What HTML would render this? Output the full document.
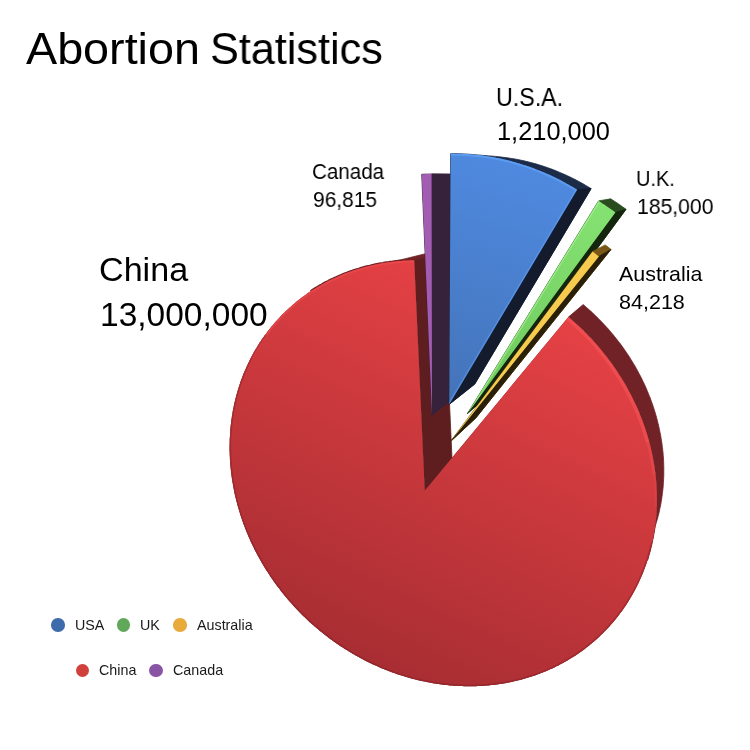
<!DOCTYPE html>
<html><head><meta charset="utf-8">
<style>
html,body{margin:0;padding:0;background:#fff;}
body{width:750px;height:750px;position:relative;overflow:hidden;font-family:"Liberation Sans",Arial,sans-serif;color:#000;}
.t{position:absolute;white-space:nowrap;line-height:1;will-change:transform;}
.leg{font-size:14.3px;color:#1a1a1a;}
.dot{position:absolute;width:13.6px;height:13.6px;border-radius:50%;}
svg{position:absolute;left:0;top:0;}
</style></head><body>
<svg width="750" height="750" viewBox="0 0 750 750">
<defs>
<linearGradient id="gRed" gradientUnits="userSpaceOnUse" x1="641.5" y1="229.5" x2="420" y2="700"><stop offset="0" stop-color="#f7474a"/><stop offset="1" stop-color="#a62d32"/></linearGradient>
<linearGradient id="gBlue" gradientUnits="userSpaceOnUse" x1="520" y1="160" x2="450" y2="400">
<stop offset="0" stop-color="#4f8ae0"/><stop offset="1" stop-color="#4474ba"/></linearGradient>
<linearGradient id="gGreen" gradientUnits="userSpaceOnUse" x1="600" y1="200" x2="470" y2="410">
<stop offset="0" stop-color="#84e272"/><stop offset="1" stop-color="#6ec85c"/></linearGradient>
</defs>
<defs><clipPath id="cp_china"><path d="M424.7,490.7 L568.4,317.1 L570.1,318.5 L571.8,320.0 L573.5,321.5 L575.2,323.0 L576.8,324.5 L578.5,326.0 L580.1,327.5 L581.7,329.1 L583.4,330.6 L584.9,332.2 L586.5,333.8 L588.1,335.4 L589.6,337.0 L591.2,338.6 L592.7,340.3 L594.2,341.9 L595.7,343.6 L597.2,345.3 L598.6,347.0 L600.1,348.7 L601.5,350.4 L602.9,352.2 L604.3,353.9 L605.7,355.7 L607.1,357.4 L608.4,359.2 L609.8,361.0 L611.1,362.8 L612.4,364.6 L613.7,366.4 L614.9,368.2 L616.2,370.1 L617.4,371.9 L618.6,373.8 L619.8,375.7 L621.0,377.5 L622.2,379.4 L623.3,381.3 L624.5,383.2 L625.6,385.1 L626.7,387.1 L627.7,389.0 L628.8,390.9 L629.8,392.9 L630.8,394.8 L631.8,396.8 L632.8,398.7 L633.8,400.7 L634.7,402.7 L635.7,404.7 L636.6,406.6 L637.4,408.6 L638.3,410.6 L639.2,412.6 L640.0,414.7 L640.8,416.7 L641.6,418.7 L642.4,420.7 L643.1,422.7 L643.8,424.8 L644.5,426.8 L645.2,428.8 L645.9,430.9 L646.6,432.9 L647.2,435.0 L647.8,437.0 L648.4,439.1 L649.0,441.1 L649.5,443.2 L650.1,445.2 L650.6,447.3 L651.1,449.4 L651.5,451.4 L652.0,453.5 L652.4,455.5 L652.8,457.6 L653.2,459.7 L653.6,461.7 L654.0,463.8 L654.3,465.8 L654.6,467.9 L654.9,470.0 L655.2,472.0 L655.4,474.1 L655.7,476.1 L655.9,478.2 L656.1,480.2 L656.2,482.3 L656.4,484.3 L656.5,486.4 L656.6,488.4 L656.7,490.5 L656.8,492.5 L656.9,494.5 L656.9,496.6 L656.9,498.6 L656.9,500.6 L656.9,502.6 L656.9,504.6 L656.8,506.6 L656.7,508.7 L656.6,510.6 L656.5,512.6 L656.4,514.6 L656.2,516.6 L656.0,518.6 L655.8,520.6 L655.6,522.5 L655.4,524.5 L655.1,526.4 L654.8,528.4 L654.6,530.3 L654.2,532.3 L653.9,534.2 L653.6,536.1 L653.2,538.0 L652.8,539.9 L652.4,541.8 L652.0,543.7 L651.6,545.6 L651.1,547.4 L650.7,549.3 L650.2,551.2 L649.7,553.0 L649.1,554.8 L648.6,556.7 L648.0,558.5 L647.5,560.3 L646.9,562.1 L646.3,563.9 L645.6,565.7 L645.0,567.4 L644.3,569.2 L643.7,571.0 L643.0,572.7 L642.3,574.4 L641.5,576.2 L640.8,577.9 L640.0,579.6 L639.3,581.3 L638.5,582.9 L637.7,584.6 L636.9,586.3 L636.0,587.9 L635.2,589.5 L634.3,591.2 L633.4,592.8 L632.5,594.4 L631.6,596.0 L630.7,597.5 L629.8,599.1 L628.8,600.7 L627.8,602.2 L626.9,603.7 L625.9,605.2 L624.9,606.7 L623.8,608.2 L622.8,609.7 L621.8,611.2 L620.7,612.6 L619.6,614.1 L618.5,615.5 L617.4,616.9 L616.3,618.3 L615.2,619.7 L614.1,621.1 L612.9,622.4 L611.7,623.8 L610.6,625.1 L609.4,626.4 L608.2,627.7 L607.0,629.0 L605.7,630.3 L604.5,631.6 L603.3,632.8 L602.0,634.1 L600.7,635.3 L599.5,636.5 L598.2,637.7 L596.9,638.9 L595.6,640.0 L594.3,641.2 L592.9,642.3 L591.6,643.5 L590.2,644.6 L588.9,645.7 L587.5,646.8 L586.1,647.8 L584.8,648.9 L583.4,649.9 L582.0,650.9 L580.5,652.0 L579.1,653.0 L577.7,653.9 L576.3,654.9 L574.8,655.9 L573.3,656.8 L571.9,657.7 L570.4,658.6 L568.9,659.5 L567.4,660.4 L566.0,661.3 L564.5,662.1 L562.9,663.0 L561.4,663.8 L559.9,664.6 L558.4,665.4 L556.8,666.1 L555.3,666.9 L553.7,667.7 L552.2,668.4 L550.6,669.1 L549.1,669.8 L547.5,670.5 L545.9,671.2 L544.3,671.8 L542.7,672.5 L541.1,673.1 L539.5,673.7 L537.9,674.3 L536.3,674.9 L534.7,675.5 L533.1,676.0 L531.5,676.6 L529.8,677.1 L528.2,677.6 L526.6,678.1 L524.9,678.6 L523.3,679.0 L521.6,679.5 L520.0,679.9 L518.3,680.3 L516.6,680.7 L515.0,681.1 L513.3,681.5 L511.6,681.9 L510.0,682.2 L508.3,682.6 L506.6,682.9 L504.9,683.2 L503.2,683.5 L501.5,683.7 L499.9,684.0 L498.2,684.3 L496.5,684.5 L494.8,684.7 L493.1,684.9 L491.4,685.1 L489.7,685.3 L488.0,685.4 L486.3,685.6 L484.6,685.7 L482.9,685.8 L481.1,685.9 L479.4,686.0 L477.7,686.1 L476.0,686.2 L474.3,686.2 L472.6,686.2 L470.9,686.3 L469.2,686.3 L467.5,686.3 L465.7,686.2 L464.0,686.2 L462.3,686.1 L460.6,686.1 L458.9,686.0 L457.2,685.9 L455.5,685.8 L453.8,685.7 L452.1,685.6 L450.3,685.4 L448.6,685.3 L446.9,685.1 L445.2,684.9 L443.5,684.7 L441.8,684.5 L440.1,684.3 L438.4,684.0 L436.7,683.8 L435.0,683.5 L433.3,683.2 L431.6,682.9 L429.9,682.6 L428.2,682.3 L426.6,682.0 L424.9,681.6 L423.2,681.3 L421.5,680.9 L419.8,680.5 L418.2,680.2 L416.5,679.7 L414.8,679.3 L413.1,678.9 L411.5,678.5 L409.8,678.0 L408.2,677.5 L406.5,677.0 L404.9,676.6 L403.2,676.0 L401.6,675.5 L399.9,675.0 L398.3,674.5 L396.6,673.9 L395.0,673.3 L393.4,672.8 L391.8,672.2 L390.1,671.6 L388.5,671.0 L386.9,670.3 L385.3,669.7 L383.7,669.0 L382.1,668.4 L380.5,667.7 L378.9,667.0 L377.4,666.3 L375.8,665.6 L374.2,664.9 L372.6,664.2 L371.1,663.4 L369.5,662.7 L368.0,661.9 L366.4,661.2 L364.9,660.4 L363.3,659.6 L361.8,658.8 L360.3,658.0 L358.7,657.1 L357.2,656.3 L355.7,655.4 L354.2,654.6 L352.7,653.7 L351.2,652.8 L349.7,652.0 L348.3,651.1 L346.8,650.1 L345.3,649.2 L343.8,648.3 L342.4,647.3 L340.9,646.4 L339.5,645.4 L338.1,644.5 L336.6,643.5 L335.2,642.5 L333.8,641.5 L332.4,640.5 L331.0,639.5 L329.6,638.4 L328.2,637.4 L326.8,636.3 L325.4,635.3 L324.1,634.2 L322.7,633.1 L321.4,632.0 L320.0,630.9 L318.7,629.8 L317.4,628.7 L316.0,627.6 L314.7,626.5 L313.4,625.3 L312.1,624.2 L310.8,623.0 L309.5,621.9 L308.3,620.7 L307.0,619.5 L305.7,618.3 L304.5,617.1 L303.2,615.9 L302.0,614.7 L300.8,613.4 L299.6,612.2 L298.4,611.0 L297.2,609.7 L296.0,608.5 L294.8,607.2 L293.6,605.9 L292.4,604.6 L291.3,603.3 L290.1,602.0 L289.0,600.7 L287.9,599.4 L286.7,598.1 L285.6,596.8 L284.5,595.4 L283.4,594.1 L282.3,592.7 L281.3,591.4 L280.2,590.0 L279.2,588.6 L278.1,587.3 L277.1,585.9 L276.0,584.5 L275.0,583.1 L274.0,581.7 L273.0,580.3 L272.0,578.8 L271.1,577.4 L270.1,576.0 L269.1,574.5 L268.2,573.1 L267.2,571.6 L266.3,570.2 L265.4,568.7 L264.5,567.2 L263.6,565.8 L262.7,564.3 L261.8,562.8 L261.0,561.3 L260.1,559.8 L259.3,558.3 L258.4,556.8 L257.6,555.3 L256.8,553.8 L256.0,552.2 L255.2,550.7 L254.4,549.2 L253.7,547.6 L252.9,546.1 L252.2,544.5 L251.4,543.0 L250.7,541.4 L250.0,539.8 L249.3,538.3 L248.6,536.7 L247.9,535.1 L247.3,533.5 L246.6,531.9 L246.0,530.3 L245.3,528.7 L244.7,527.1 L244.1,525.5 L243.5,523.9 L242.9,522.3 L242.4,520.7 L241.8,519.1 L241.2,517.4 L240.7,515.8 L240.2,514.2 L239.7,512.5 L239.2,510.9 L238.7,509.3 L238.2,507.6 L237.7,506.0 L237.3,504.3 L236.9,502.7 L236.4,501.0 L236.0,499.3 L235.6,497.7 L235.2,496.0 L234.8,494.4 L234.5,492.7 L234.1,491.0 L233.8,489.3 L233.5,487.7 L233.2,486.0 L232.9,484.3 L232.6,482.6 L232.3,480.9 L232.0,479.3 L231.8,477.6 L231.6,475.9 L231.3,474.2 L231.1,472.5 L230.9,470.8 L230.8,469.1 L230.6,467.4 L230.4,465.7 L230.3,464.0 L230.2,462.3 L230.0,460.6 L229.9,458.9 L229.9,457.2 L229.8,455.5 L229.7,453.8 L229.7,452.1 L229.6,450.4 L229.6,448.7 L229.6,447.0 L229.6,445.3 L229.7,443.6 L229.7,442.0 L229.7,440.3 L229.8,438.6 L229.9,436.9 L230.0,435.2 L230.1,433.5 L230.2,431.8 L230.3,430.1 L230.5,428.4 L230.6,426.7 L230.8,425.0 L231.0,423.3 L231.2,421.7 L231.4,420.0 L231.7,418.3 L231.9,416.6 L232.2,414.9 L232.5,413.3 L232.7,411.6 L233.0,409.9 L233.4,408.3 L233.7,406.6 L234.0,405.0 L234.4,403.3 L234.8,401.6 L235.2,400.0 L235.6,398.3 L236.0,396.7 L236.4,395.1 L236.9,393.4 L237.4,391.8 L237.8,390.2 L238.3,388.5 L238.8,386.9 L239.4,385.3 L239.9,383.7 L240.4,382.1 L241.0,380.5 L241.6,378.9 L242.2,377.3 L242.8,375.7 L243.4,374.1 L244.1,372.6 L244.7,371.0 L245.4,369.4 L246.1,367.9 L246.8,366.3 L247.5,364.8 L248.2,363.2 L249.0,361.7 L249.7,360.2 L250.5,358.6 L251.3,357.1 L252.1,355.6 L252.9,354.1 L253.7,352.6 L254.6,351.1 L255.4,349.6 L256.3,348.2 L257.2,346.7 L258.1,345.2 L259.0,343.8 L259.9,342.3 L260.9,340.9 L261.8,339.5 L262.8,338.1 L263.8,336.7 L264.8,335.3 L265.8,333.9 L266.9,332.5 L267.9,331.1 L269.0,329.7 L270.0,328.4 L271.1,327.0 L272.2,325.7 L273.4,324.4 L274.5,323.0 L275.6,321.7 L276.8,320.4 L278.0,319.2 L279.2,317.9 L280.4,316.6 L281.6,315.3 L282.8,314.1 L284.1,312.9 L285.3,311.6 L286.6,310.4 L287.9,309.2 L289.2,308.0 L290.5,306.9 L291.8,305.7 L293.1,304.5 L294.5,303.4 L295.8,302.2 L297.2,301.1 L298.6,300.0 L300.0,298.9 L301.4,297.8 L302.9,296.8 L304.3,295.7 L305.8,294.7 L307.2,293.6 L308.7,292.6 L310.2,291.6 L311.7,290.6 L313.2,289.6 L314.7,288.7 L316.3,287.7 L317.8,286.8 L319.4,285.9 L321.0,285.0 L322.6,284.1 L324.2,283.2 L325.8,282.3 L327.4,281.5 L329.0,280.6 L330.7,279.8 L332.3,279.0 L334.0,278.2 L335.7,277.5 L337.4,276.7 L339.1,276.0 L340.8,275.2 L342.5,274.5 L344.2,273.8 L346.0,273.1 L347.7,272.5 L349.5,271.8 L351.3,271.2 L353.0,270.6 L354.8,270.0 L356.6,269.4 L358.4,268.8 L360.3,268.3 L362.1,267.8 L363.9,267.3 L365.8,266.8 L367.6,266.3 L369.5,265.8 L371.3,265.4 L373.2,265.0 L375.1,264.5 L377.0,264.2 L378.9,263.8 L380.8,263.4 L382.7,263.1 L384.6,262.8 L386.6,262.5 L388.5,262.2 L390.5,261.9 L392.4,261.7 L394.4,261.4 L396.3,261.2 L398.3,261.1 L400.3,260.9 L402.2,260.7 L404.2,260.6 L406.2,260.5 L408.2,260.4 L410.2,260.3 L412.2,260.3 L414.2,260.2 Z"/></clipPath><clipPath id="cp_canada"><path d="M432.0,415.0 L421.7,174.3 L423.7,174.2 L425.7,174.1 L427.6,174.1 L429.6,174.0 L431.6,174.0 Z"/></clipPath><clipPath id="cp_usa"><path d="M449.3,404.3 L450.6,153.7 L452.7,153.7 L454.9,153.7 L457.0,153.7 L459.1,153.8 L461.3,153.8 L463.4,153.9 L465.6,154.0 L467.7,154.1 L469.9,154.3 L472.0,154.5 L474.2,154.6 L476.4,154.9 L478.5,155.1 L480.7,155.3 L482.8,155.6 L485.0,155.9 L487.2,156.2 L489.3,156.6 L491.5,156.9 L493.6,157.3 L495.8,157.7 L498.0,158.1 L500.1,158.6 L502.3,159.0 L504.4,159.5 L506.6,160.0 L508.7,160.6 L510.9,161.1 L513.0,161.7 L515.2,162.3 L517.3,162.9 L519.4,163.5 L521.6,164.2 L523.7,164.9 L525.8,165.6 L528.0,166.3 L530.1,167.0 L532.2,167.8 L534.3,168.6 L536.4,169.4 L538.5,170.2 L540.6,171.0 L542.7,171.9 L544.8,172.8 L546.8,173.7 L548.9,174.6 L551.0,175.6 L553.0,176.5 L555.1,177.5 L557.1,178.5 L559.2,179.6 L561.2,180.6 L563.2,181.7 L565.2,182.8 L567.2,183.9 L569.2,185.0 L571.2,186.2 L573.2,187.3 L575.1,188.5 L577.1,189.7 Z"/></clipPath><clipPath id="cp_uk"><path d="M467.5,413.5 L598.6,200.9 L600.5,202.1 L602.4,203.4 L604.3,204.6 L606.2,205.9 L608.1,207.2 L609.9,208.5 L611.8,209.8 L613.6,211.1 L615.4,212.5 Z"/></clipPath><clipPath id="cp_aus"><path d="M450.5,441.5 L592.6,251.5 L594.2,252.7 L595.8,254.0 L597.3,255.2 L598.9,256.5 Z"/></clipPath></defs>
<path d="M424.7,490.7 L568.4,317.1 L570.1,318.5 L571.8,320.0 L573.5,321.5 L575.2,323.0 L576.8,324.5 L578.5,326.0 L580.1,327.5 L581.7,329.1 L583.4,330.6 L584.9,332.2 L586.5,333.8 L588.1,335.4 L589.6,337.0 L591.2,338.6 L592.7,340.3 L594.2,341.9 L595.7,343.6 L597.2,345.3 L598.6,347.0 L600.1,348.7 L601.5,350.4 L602.9,352.2 L604.3,353.9 L605.7,355.7 L607.1,357.4 L608.4,359.2 L609.8,361.0 L611.1,362.8 L612.4,364.6 L613.7,366.4 L614.9,368.2 L616.2,370.1 L617.4,371.9 L618.6,373.8 L619.8,375.7 L621.0,377.5 L622.2,379.4 L623.3,381.3 L624.5,383.2 L625.6,385.1 L626.7,387.1 L627.7,389.0 L628.8,390.9 L629.8,392.9 L630.8,394.8 L631.8,396.8 L632.8,398.7 L633.8,400.7 L634.7,402.7 L635.7,404.7 L636.6,406.6 L637.4,408.6 L638.3,410.6 L639.2,412.6 L640.0,414.7 L640.8,416.7 L641.6,418.7 L642.4,420.7 L643.1,422.7 L643.8,424.8 L644.5,426.8 L645.2,428.8 L645.9,430.9 L646.6,432.9 L647.2,435.0 L647.8,437.0 L648.4,439.1 L649.0,441.1 L649.5,443.2 L650.1,445.2 L650.6,447.3 L651.1,449.4 L651.5,451.4 L652.0,453.5 L652.4,455.5 L652.8,457.6 L653.2,459.7 L653.6,461.7 L654.0,463.8 L654.3,465.8 L654.6,467.9 L654.9,470.0 L655.2,472.0 L655.4,474.1 L655.7,476.1 L655.9,478.2 L656.1,480.2 L656.2,482.3 L656.4,484.3 L656.5,486.4 L656.6,488.4 L656.7,490.5 L656.8,492.5 L656.9,494.5 L656.9,496.6 L656.9,498.6 L656.9,500.6 L656.9,502.6 L656.9,504.6 L656.8,506.6 L656.7,508.7 L656.6,510.6 L656.5,512.6 L656.4,514.6 L656.2,516.6 L656.0,518.6 L655.8,520.6 L655.6,522.5 L655.4,524.5 L655.1,526.4 L654.8,528.4 L654.6,530.3 L654.2,532.3 L653.9,534.2 L653.6,536.1 L653.2,538.0 L652.8,539.9 L652.4,541.8 L652.0,543.7 L651.6,545.6 L651.1,547.4 L650.7,549.3 L650.2,551.2 L649.7,553.0 L649.1,554.8 L648.6,556.7 L648.0,558.5 L647.5,560.3 L646.9,562.1 L646.3,563.9 L645.6,565.7 L645.0,567.4 L644.3,569.2 L643.7,571.0 L643.0,572.7 L642.3,574.4 L641.5,576.2 L640.8,577.9 L640.0,579.6 L639.3,581.3 L638.5,582.9 L637.7,584.6 L636.9,586.3 L636.0,587.9 L635.2,589.5 L634.3,591.2 L633.4,592.8 L632.5,594.4 L631.6,596.0 L630.7,597.5 L629.8,599.1 L628.8,600.7 L627.8,602.2 L626.9,603.7 L625.9,605.2 L624.9,606.7 L623.8,608.2 L622.8,609.7 L621.8,611.2 L620.7,612.6 L619.6,614.1 L618.5,615.5 L617.4,616.9 L616.3,618.3 L615.2,619.7 L614.1,621.1 L612.9,622.4 L611.7,623.8 L610.6,625.1 L609.4,626.4 L608.2,627.7 L607.0,629.0 L605.7,630.3 L604.5,631.6 L603.3,632.8 L602.0,634.1 L600.7,635.3 L599.5,636.5 L598.2,637.7 L596.9,638.9 L595.6,640.0 L594.3,641.2 L592.9,642.3 L591.6,643.5 L590.2,644.6 L588.9,645.7 L587.5,646.8 L586.1,647.8 L584.8,648.9 L583.4,649.9 L582.0,650.9 L580.5,652.0 L579.1,653.0 L577.7,653.9 L576.3,654.9 L574.8,655.9 L573.3,656.8 L571.9,657.7 L570.4,658.6 L568.9,659.5 L567.4,660.4 L566.0,661.3 L564.5,662.1 L562.9,663.0 L561.4,663.8 L559.9,664.6 L558.4,665.4 L556.8,666.1 L555.3,666.9 L553.7,667.7 L552.2,668.4 L550.6,669.1 L549.1,669.8 L547.5,670.5 L545.9,671.2 L544.3,671.8 L542.7,672.5 L541.1,673.1 L539.5,673.7 L537.9,674.3 L536.3,674.9 L534.7,675.5 L533.1,676.0 L531.5,676.6 L529.8,677.1 L528.2,677.6 L526.6,678.1 L524.9,678.6 L523.3,679.0 L521.6,679.5 L520.0,679.9 L518.3,680.3 L516.6,680.7 L515.0,681.1 L513.3,681.5 L511.6,681.9 L510.0,682.2 L508.3,682.6 L506.6,682.9 L504.9,683.2 L503.2,683.5 L501.5,683.7 L499.9,684.0 L498.2,684.3 L496.5,684.5 L494.8,684.7 L493.1,684.9 L491.4,685.1 L489.7,685.3 L488.0,685.4 L486.3,685.6 L484.6,685.7 L482.9,685.8 L481.1,685.9 L479.4,686.0 L477.7,686.1 L476.0,686.2 L474.3,686.2 L472.6,686.2 L470.9,686.3 L469.2,686.3 L467.5,686.3 L465.7,686.2 L464.0,686.2 L462.3,686.1 L460.6,686.1 L458.9,686.0 L457.2,685.9 L455.5,685.8 L453.8,685.7 L452.1,685.6 L450.3,685.4 L448.6,685.3 L446.9,685.1 L445.2,684.9 L443.5,684.7 L441.8,684.5 L440.1,684.3 L438.4,684.0 L436.7,683.8 L435.0,683.5 L433.3,683.2 L431.6,682.9 L429.9,682.6 L428.2,682.3 L426.6,682.0 L424.9,681.6 L423.2,681.3 L421.5,680.9 L419.8,680.5 L418.2,680.2 L416.5,679.7 L414.8,679.3 L413.1,678.9 L411.5,678.5 L409.8,678.0 L408.2,677.5 L406.5,677.0 L404.9,676.6 L403.2,676.0 L401.6,675.5 L399.9,675.0 L398.3,674.5 L396.6,673.9 L395.0,673.3 L393.4,672.8 L391.8,672.2 L390.1,671.6 L388.5,671.0 L386.9,670.3 L385.3,669.7 L383.7,669.0 L382.1,668.4 L380.5,667.7 L378.9,667.0 L377.4,666.3 L375.8,665.6 L374.2,664.9 L372.6,664.2 L371.1,663.4 L369.5,662.7 L368.0,661.9 L366.4,661.2 L364.9,660.4 L363.3,659.6 L361.8,658.8 L360.3,658.0 L358.7,657.1 L357.2,656.3 L355.7,655.4 L354.2,654.6 L352.7,653.7 L351.2,652.8 L349.7,652.0 L348.3,651.1 L346.8,650.1 L345.3,649.2 L343.8,648.3 L342.4,647.3 L340.9,646.4 L339.5,645.4 L338.1,644.5 L336.6,643.5 L335.2,642.5 L333.8,641.5 L332.4,640.5 L331.0,639.5 L329.6,638.4 L328.2,637.4 L326.8,636.3 L325.4,635.3 L324.1,634.2 L322.7,633.1 L321.4,632.0 L320.0,630.9 L318.7,629.8 L317.4,628.7 L316.0,627.6 L314.7,626.5 L313.4,625.3 L312.1,624.2 L310.8,623.0 L309.5,621.9 L308.3,620.7 L307.0,619.5 L305.7,618.3 L304.5,617.1 L303.2,615.9 L302.0,614.7 L300.8,613.4 L299.6,612.2 L298.4,611.0 L297.2,609.7 L296.0,608.5 L294.8,607.2 L293.6,605.9 L292.4,604.6 L291.3,603.3 L290.1,602.0 L289.0,600.7 L287.9,599.4 L286.7,598.1 L285.6,596.8 L284.5,595.4 L283.4,594.1 L282.3,592.7 L281.3,591.4 L280.2,590.0 L279.2,588.6 L278.1,587.3 L277.1,585.9 L276.0,584.5 L275.0,583.1 L274.0,581.7 L273.0,580.3 L272.0,578.8 L271.1,577.4 L270.1,576.0 L269.1,574.5 L268.2,573.1 L267.2,571.6 L266.3,570.2 L265.4,568.7 L264.5,567.2 L263.6,565.8 L262.7,564.3 L261.8,562.8 L261.0,561.3 L260.1,559.8 L259.3,558.3 L258.4,556.8 L257.6,555.3 L256.8,553.8 L256.0,552.2 L255.2,550.7 L254.4,549.2 L253.7,547.6 L252.9,546.1 L252.2,544.5 L251.4,543.0 L250.7,541.4 L250.0,539.8 L249.3,538.3 L248.6,536.7 L247.9,535.1 L247.3,533.5 L246.6,531.9 L246.0,530.3 L245.3,528.7 L244.7,527.1 L244.1,525.5 L243.5,523.9 L242.9,522.3 L242.4,520.7 L241.8,519.1 L241.2,517.4 L240.7,515.8 L240.2,514.2 L239.7,512.5 L239.2,510.9 L238.7,509.3 L238.2,507.6 L237.7,506.0 L237.3,504.3 L236.9,502.7 L236.4,501.0 L236.0,499.3 L235.6,497.7 L235.2,496.0 L234.8,494.4 L234.5,492.7 L234.1,491.0 L233.8,489.3 L233.5,487.7 L233.2,486.0 L232.9,484.3 L232.6,482.6 L232.3,480.9 L232.0,479.3 L231.8,477.6 L231.6,475.9 L231.3,474.2 L231.1,472.5 L230.9,470.8 L230.8,469.1 L230.6,467.4 L230.4,465.7 L230.3,464.0 L230.2,462.3 L230.0,460.6 L229.9,458.9 L229.9,457.2 L229.8,455.5 L229.7,453.8 L229.7,452.1 L229.6,450.4 L229.6,448.7 L229.6,447.0 L229.6,445.3 L229.7,443.6 L229.7,442.0 L229.7,440.3 L229.8,438.6 L229.9,436.9 L230.0,435.2 L230.1,433.5 L230.2,431.8 L230.3,430.1 L230.5,428.4 L230.6,426.7 L230.8,425.0 L231.0,423.3 L231.2,421.7 L231.4,420.0 L231.7,418.3 L231.9,416.6 L232.2,414.9 L232.5,413.3 L232.7,411.6 L233.0,409.9 L233.4,408.3 L233.7,406.6 L234.0,405.0 L234.4,403.3 L234.8,401.6 L235.2,400.0 L235.6,398.3 L236.0,396.7 L236.4,395.1 L236.9,393.4 L237.4,391.8 L237.8,390.2 L238.3,388.5 L238.8,386.9 L239.4,385.3 L239.9,383.7 L240.4,382.1 L241.0,380.5 L241.6,378.9 L242.2,377.3 L242.8,375.7 L243.4,374.1 L244.1,372.6 L244.7,371.0 L245.4,369.4 L246.1,367.9 L246.8,366.3 L247.5,364.8 L248.2,363.2 L249.0,361.7 L249.7,360.2 L250.5,358.6 L251.3,357.1 L252.1,355.6 L252.9,354.1 L253.7,352.6 L254.6,351.1 L255.4,349.6 L256.3,348.2 L257.2,346.7 L258.1,345.2 L259.0,343.8 L259.9,342.3 L260.9,340.9 L261.8,339.5 L262.8,338.1 L263.8,336.7 L264.8,335.3 L265.8,333.9 L266.9,332.5 L267.9,331.1 L269.0,329.7 L270.0,328.4 L271.1,327.0 L272.2,325.7 L273.4,324.4 L274.5,323.0 L275.6,321.7 L276.8,320.4 L278.0,319.2 L279.2,317.9 L280.4,316.6 L281.6,315.3 L282.8,314.1 L284.1,312.9 L285.3,311.6 L286.6,310.4 L287.9,309.2 L289.2,308.0 L290.5,306.9 L291.8,305.7 L293.1,304.5 L294.5,303.4 L295.8,302.2 L297.2,301.1 L298.6,300.0 L300.0,298.9 L301.4,297.8 L302.9,296.8 L304.3,295.7 L305.8,294.7 L307.2,293.6 L308.7,292.6 L310.2,291.6 L311.7,290.6 L313.2,289.6 L314.7,288.7 L316.3,287.7 L317.8,286.8 L319.4,285.9 L321.0,285.0 L322.6,284.1 L324.2,283.2 L325.8,282.3 L327.4,281.5 L329.0,280.6 L330.7,279.8 L332.3,279.0 L334.0,278.2 L335.7,277.5 L337.4,276.7 L339.1,276.0 L340.8,275.2 L342.5,274.5 L344.2,273.8 L346.0,273.1 L347.7,272.5 L349.5,271.8 L351.3,271.2 L353.0,270.6 L354.8,270.0 L356.6,269.4 L358.4,268.8 L360.3,268.3 L362.1,267.8 L363.9,267.3 L365.8,266.8 L367.6,266.3 L369.5,265.8 L371.3,265.4 L373.2,265.0 L375.1,264.5 L377.0,264.2 L378.9,263.8 L380.8,263.4 L382.7,263.1 L384.6,262.8 L386.6,262.5 L388.5,262.2 L390.5,261.9 L392.4,261.7 L394.4,261.4 L396.3,261.2 L398.3,261.1 L400.3,260.9 L402.2,260.7 L404.2,260.6 L406.2,260.5 L408.2,260.4 L410.2,260.3 L412.2,260.3 L414.2,260.2 Z" fill="#712226"/>
<path d="M568.4,317.1 L570.1,318.5 L571.8,320.0 L573.5,321.5 L575.2,323.0 L576.8,324.5 L578.5,326.0 L580.1,327.5 L581.7,329.1 L583.4,330.6 L584.9,332.2 L586.5,333.8 L588.1,335.4 L589.6,337.0 L591.2,338.6 L592.7,340.3 L594.2,341.9 L595.7,343.6 L597.2,345.3 L598.6,347.0 L600.1,348.7 L601.5,350.4 L602.9,352.2 L604.3,353.9 L605.7,355.7 L607.1,357.4 L608.4,359.2 L609.8,361.0 L611.1,362.8 L612.4,364.6 L613.7,366.4 L614.9,368.2 L616.2,370.1 L617.4,371.9 L618.6,373.8 L619.8,375.7 L621.0,377.5 L622.2,379.4 L623.3,381.3 L624.5,383.2 L625.6,385.1 L626.7,387.1 L627.7,389.0 L628.8,390.9 L629.8,392.9 L630.8,394.8 L631.8,396.8 L632.8,398.7 L633.8,400.7 L634.7,402.7 L635.7,404.7 L636.6,406.6 L637.4,408.6 L638.3,410.6 L639.2,412.6 L640.0,414.7 L640.8,416.7 L641.6,418.7 L642.4,420.7 L643.1,422.7 L643.8,424.8 L644.5,426.8 L645.2,428.8 L645.9,430.9 L646.6,432.9 L647.2,435.0 L647.8,437.0 L648.4,439.1 L649.0,441.1 L649.5,443.2 L650.1,445.2 L650.6,447.3 L651.1,449.4 L651.5,451.4 L652.0,453.5 L652.4,455.5 L652.8,457.6 L653.2,459.7 L653.6,461.7 L654.0,463.8 L654.3,465.8 L654.6,467.9 L654.9,470.0 L655.2,472.0 L655.4,474.1 L655.7,476.1 L655.9,478.2 L656.1,480.2 L656.2,482.3 L656.4,484.3 L656.5,486.4 L656.6,488.4 L656.7,490.5 L656.8,492.5 L656.9,494.5 L656.9,496.6 L656.9,498.6 L656.9,500.6 L656.9,502.6 L656.9,504.6 L656.8,506.6 L656.7,508.7 L656.6,510.6 L656.5,512.6 L656.4,514.6 L656.2,516.6 L656.0,518.6 L655.8,520.6 L655.6,522.5 L655.4,524.5 L655.1,526.4 L654.8,528.4 L654.6,530.3 L654.2,532.3 L653.9,534.2 L653.6,536.1 L653.2,538.0 L652.8,539.9 L652.4,541.8 L652.0,543.7 L651.6,545.6 L651.1,547.4 L650.7,549.3 L650.2,551.2 L649.7,553.0 L649.1,554.8 L648.6,556.7 L648.0,558.5 L647.5,560.3 L655.2,526.2 L655.7,524.6 L656.2,522.9 L656.7,521.3 L657.2,519.6 L657.7,517.9 L658.1,516.2 L658.6,514.5 L659.0,512.8 L659.4,511.1 L659.7,509.4 L660.1,507.6 L660.5,505.9 L660.8,504.2 L661.1,502.4 L661.4,500.7 L661.7,498.9 L661.9,497.1 L662.2,495.4 L662.4,493.6 L662.6,491.8 L662.8,490.0 L663.0,488.2 L663.2,486.4 L663.3,484.6 L663.4,482.8 L663.5,481.0 L663.6,479.2 L663.7,477.3 L663.8,475.5 L663.8,473.7 L663.8,471.8 L663.8,470.0 L663.8,468.2 L663.8,466.3 L663.7,464.5 L663.7,462.6 L663.6,460.7 L663.5,458.9 L663.4,457.0 L663.2,455.2 L663.1,453.3 L662.9,451.4 L662.7,449.5 L662.5,447.7 L662.2,445.8 L662.0,443.9 L661.7,442.0 L661.4,440.2 L661.1,438.3 L660.8,436.4 L660.5,434.5 L660.1,432.7 L659.7,430.8 L659.3,428.9 L658.9,427.0 L658.5,425.1 L658.0,423.3 L657.6,421.4 L657.1,419.5 L656.6,417.6 L656.1,415.8 L655.5,413.9 L655.0,412.0 L654.4,410.2 L653.8,408.3 L653.2,406.5 L652.6,404.6 L651.9,402.7 L651.2,400.9 L650.6,399.0 L649.9,397.2 L649.1,395.4 L648.4,393.5 L647.6,391.7 L646.9,389.9 L646.1,388.0 L645.3,386.2 L644.5,384.4 L643.6,382.6 L642.7,380.8 L641.9,379.0 L641.0,377.2 L640.1,375.4 L639.1,373.7 L638.2,371.9 L637.2,370.1 L636.3,368.4 L635.3,366.6 L634.3,364.9 L633.2,363.2 L632.2,361.4 L631.1,359.7 L630.0,358.0 L629.0,356.3 L627.8,354.6 L626.7,352.9 L625.6,351.2 L624.4,349.6 L623.3,347.9 L622.1,346.3 L620.9,344.6 L619.7,343.0 L618.4,341.4 L617.2,339.8 L615.9,338.2 L614.6,336.6 L613.4,335.0 L612.0,333.4 L610.7,331.9 L609.4,330.3 L608.1,328.8 L606.7,327.3 L605.3,325.8 L603.9,324.3 L602.5,322.8 L601.1,321.3 L599.7,319.9 L598.3,318.4 L596.8,317.0 L595.3,315.5 L593.9,314.1 L592.4,312.7 L590.9,311.3 L589.4,310.0 L587.8,308.6 L586.3,307.3 L584.8,305.9 L583.2,304.6 Z" fill="#712226" stroke="#712226" stroke-width="0.8"/>
<path d="M310.7,291.3 L312.2,290.3 L313.7,289.3 L315.2,288.4 L316.8,287.4 L318.3,286.5 L319.9,285.6 L321.5,284.7 L323.0,283.8 L324.6,282.9 L326.2,282.1 L327.9,281.3 L329.5,280.4 L331.1,279.6 L332.8,278.8 L334.4,278.0 L336.1,277.3 L337.8,276.5 L339.5,275.8 L341.2,275.1 L342.9,274.4 L344.6,273.7 L346.3,273.0 L348.1,272.3 L349.8,271.7 L351.6,271.1 L353.4,270.5 L355.2,269.9 L356.9,269.3 L358.7,268.8 L360.6,268.2 L362.4,267.7 L364.2,267.2 L366.0,266.7 L367.9,266.2 L369.7,265.8 L371.6,265.3 L373.5,264.9 L375.3,264.5 L377.2,264.1 L379.1,263.7 L381.0,263.4 L382.9,263.1 L384.8,262.7 L386.7,262.4 L388.7,262.2 L390.6,261.9 L392.5,261.7 L394.5,261.4 L396.4,261.2 L398.4,261.0 L400.4,260.9 L402.3,260.7 L404.3,260.6 L406.3,260.5 L408.3,260.4 L410.2,260.3 L412.2,260.3 L414.2,260.2" fill="none" stroke="#712226" stroke-width="2.4"/>
<path d="M394.4,261.4 L396.3,261.2 L398.3,261.1 L400.3,260.9 L402.2,260.7 L404.2,260.6 L406.2,260.5 L408.2,260.4 L410.2,260.3 L412.2,260.3 L414.2,260.2 L442.7,252.8 L440.9,252.8 L439.1,252.9 L437.2,253.0 L435.4,253.1 L433.6,253.2 L431.8,253.3 L430.0,253.4 L428.2,253.6 L426.4,253.7 L424.6,253.9 Z" fill="#712226" stroke="#712226" stroke-width="0.8"/>
<path d="M414.2,260.2 L424.7,490.7 L452.2,462.8 L442.7,252.8 Z" fill="#5e1e20" stroke="#5e1e20" stroke-width="0.8"/>
<path d="M421.7,174.3 L423.7,174.2 L425.7,174.1 L427.6,174.1 L429.6,174.0 L431.6,174.0 L458.5,174.3 L458.9,393.8 L432.0,415.0 Z" fill="#3a2238" stroke="#3a2238" stroke-width="0.8"/>
<path d="M431.6,174.0 L432.0,415.0 L458.9,393.8 L458.5,174.3 Z" fill="#36223a" stroke="#36223a" stroke-width="0.8"/>
<path d="M449.3,404.3 L450.6,153.7 L452.7,153.7 L454.9,153.7 L457.0,153.7 L459.1,153.8 L461.3,153.8 L463.4,153.9 L465.6,154.0 L467.7,154.1 L469.9,154.3 L472.0,154.5 L495.4,156.4 L497.4,156.6 L499.3,156.8 L501.3,157.0 L503.3,157.3 L505.2,157.5 L507.2,157.8 L509.2,158.1 L511.1,158.4 L513.1,158.7 L515.1,159.0 L517.0,159.4 L519.0,159.8 L521.0,160.2 L522.9,160.6 L524.9,161.1 L526.9,161.5 L528.8,162.0 L530.8,162.5 L532.7,163.0 L534.7,163.6 L536.6,164.1 L538.6,164.7 L540.5,165.3 L542.5,165.9 L544.4,166.6 L546.3,167.2 L548.3,167.9 L550.2,168.6 L552.1,169.3 L554.0,170.0 L555.9,170.8 L557.8,171.6 L559.7,172.4 L561.6,173.2 L563.5,174.0 L565.4,174.8 L567.3,175.7 L569.2,176.6 L571.0,177.5 L572.9,178.4 L574.7,179.3 L576.6,180.3 L578.4,181.3 L580.3,182.3 L582.1,183.3 L583.9,184.3 L585.7,185.4 L587.5,186.4 L589.3,187.5 L591.1,188.6 L474.7,384.1 Z" fill="#1c2b48" stroke="#1c2b48" stroke-width="0.8"/>
<path d="M577.1,189.7 L449.3,404.3 L474.7,384.1 L591.1,188.6 Z" fill="#131b2c" stroke="#131b2c" stroke-width="0.8"/>
<path d="M467.5,413.5 L598.6,200.9 L610.7,198.8 L612.4,199.9 L614.1,201.0 L615.9,202.2 L617.6,203.3 L619.3,204.5 L621.0,205.7 L622.7,206.9 L624.4,208.1 L626.0,209.3 L491.2,392.5 Z" fill="#2a4a20" stroke="#2a4a20" stroke-width="0.8"/>
<path d="M615.4,212.5 L467.5,413.5 L491.2,392.5 L626.0,209.3 Z" fill="#14260e" stroke="#14260e" stroke-width="0.8"/>
<path d="M450.5,441.5 L592.6,251.5 L605.2,244.9 L606.7,246.0 L608.1,247.1 L609.5,248.3 L611.0,249.4 L475.8,418.0 Z" fill="#7a5818" stroke="#7a5818" stroke-width="0.8"/>
<path d="M598.9,256.5 L450.5,441.5 L475.8,418.0 L611.0,249.4 Z" fill="#2a200a" stroke="#2a200a" stroke-width="0.8"/>
<path d="M424.7,490.7 L568.4,317.1 L570.1,318.5 L571.8,320.0 L573.5,321.5 L575.2,323.0 L576.8,324.5 L578.5,326.0 L580.1,327.5 L581.7,329.1 L583.4,330.6 L584.9,332.2 L586.5,333.8 L588.1,335.4 L589.6,337.0 L591.2,338.6 L592.7,340.3 L594.2,341.9 L595.7,343.6 L597.2,345.3 L598.6,347.0 L600.1,348.7 L601.5,350.4 L602.9,352.2 L604.3,353.9 L605.7,355.7 L607.1,357.4 L608.4,359.2 L609.8,361.0 L611.1,362.8 L612.4,364.6 L613.7,366.4 L614.9,368.2 L616.2,370.1 L617.4,371.9 L618.6,373.8 L619.8,375.7 L621.0,377.5 L622.2,379.4 L623.3,381.3 L624.5,383.2 L625.6,385.1 L626.7,387.1 L627.7,389.0 L628.8,390.9 L629.8,392.9 L630.8,394.8 L631.8,396.8 L632.8,398.7 L633.8,400.7 L634.7,402.7 L635.7,404.7 L636.6,406.6 L637.4,408.6 L638.3,410.6 L639.2,412.6 L640.0,414.7 L640.8,416.7 L641.6,418.7 L642.4,420.7 L643.1,422.7 L643.8,424.8 L644.5,426.8 L645.2,428.8 L645.9,430.9 L646.6,432.9 L647.2,435.0 L647.8,437.0 L648.4,439.1 L649.0,441.1 L649.5,443.2 L650.1,445.2 L650.6,447.3 L651.1,449.4 L651.5,451.4 L652.0,453.5 L652.4,455.5 L652.8,457.6 L653.2,459.7 L653.6,461.7 L654.0,463.8 L654.3,465.8 L654.6,467.9 L654.9,470.0 L655.2,472.0 L655.4,474.1 L655.7,476.1 L655.9,478.2 L656.1,480.2 L656.2,482.3 L656.4,484.3 L656.5,486.4 L656.6,488.4 L656.7,490.5 L656.8,492.5 L656.9,494.5 L656.9,496.6 L656.9,498.6 L656.9,500.6 L656.9,502.6 L656.9,504.6 L656.8,506.6 L656.7,508.7 L656.6,510.6 L656.5,512.6 L656.4,514.6 L656.2,516.6 L656.0,518.6 L655.8,520.6 L655.6,522.5 L655.4,524.5 L655.1,526.4 L654.8,528.4 L654.6,530.3 L654.2,532.3 L653.9,534.2 L653.6,536.1 L653.2,538.0 L652.8,539.9 L652.4,541.8 L652.0,543.7 L651.6,545.6 L651.1,547.4 L650.7,549.3 L650.2,551.2 L649.7,553.0 L649.1,554.8 L648.6,556.7 L648.0,558.5 L647.5,560.3 L646.9,562.1 L646.3,563.9 L645.6,565.7 L645.0,567.4 L644.3,569.2 L643.7,571.0 L643.0,572.7 L642.3,574.4 L641.5,576.2 L640.8,577.9 L640.0,579.6 L639.3,581.3 L638.5,582.9 L637.7,584.6 L636.9,586.3 L636.0,587.9 L635.2,589.5 L634.3,591.2 L633.4,592.8 L632.5,594.4 L631.6,596.0 L630.7,597.5 L629.8,599.1 L628.8,600.7 L627.8,602.2 L626.9,603.7 L625.9,605.2 L624.9,606.7 L623.8,608.2 L622.8,609.7 L621.8,611.2 L620.7,612.6 L619.6,614.1 L618.5,615.5 L617.4,616.9 L616.3,618.3 L615.2,619.7 L614.1,621.1 L612.9,622.4 L611.7,623.8 L610.6,625.1 L609.4,626.4 L608.2,627.7 L607.0,629.0 L605.7,630.3 L604.5,631.6 L603.3,632.8 L602.0,634.1 L600.7,635.3 L599.5,636.5 L598.2,637.7 L596.9,638.9 L595.6,640.0 L594.3,641.2 L592.9,642.3 L591.6,643.5 L590.2,644.6 L588.9,645.7 L587.5,646.8 L586.1,647.8 L584.8,648.9 L583.4,649.9 L582.0,650.9 L580.5,652.0 L579.1,653.0 L577.7,653.9 L576.3,654.9 L574.8,655.9 L573.3,656.8 L571.9,657.7 L570.4,658.6 L568.9,659.5 L567.4,660.4 L566.0,661.3 L564.5,662.1 L562.9,663.0 L561.4,663.8 L559.9,664.6 L558.4,665.4 L556.8,666.1 L555.3,666.9 L553.7,667.7 L552.2,668.4 L550.6,669.1 L549.1,669.8 L547.5,670.5 L545.9,671.2 L544.3,671.8 L542.7,672.5 L541.1,673.1 L539.5,673.7 L537.9,674.3 L536.3,674.9 L534.7,675.5 L533.1,676.0 L531.5,676.6 L529.8,677.1 L528.2,677.6 L526.6,678.1 L524.9,678.6 L523.3,679.0 L521.6,679.5 L520.0,679.9 L518.3,680.3 L516.6,680.7 L515.0,681.1 L513.3,681.5 L511.6,681.9 L510.0,682.2 L508.3,682.6 L506.6,682.9 L504.9,683.2 L503.2,683.5 L501.5,683.7 L499.9,684.0 L498.2,684.3 L496.5,684.5 L494.8,684.7 L493.1,684.9 L491.4,685.1 L489.7,685.3 L488.0,685.4 L486.3,685.6 L484.6,685.7 L482.9,685.8 L481.1,685.9 L479.4,686.0 L477.7,686.1 L476.0,686.2 L474.3,686.2 L472.6,686.2 L470.9,686.3 L469.2,686.3 L467.5,686.3 L465.7,686.2 L464.0,686.2 L462.3,686.1 L460.6,686.1 L458.9,686.0 L457.2,685.9 L455.5,685.8 L453.8,685.7 L452.1,685.6 L450.3,685.4 L448.6,685.3 L446.9,685.1 L445.2,684.9 L443.5,684.7 L441.8,684.5 L440.1,684.3 L438.4,684.0 L436.7,683.8 L435.0,683.5 L433.3,683.2 L431.6,682.9 L429.9,682.6 L428.2,682.3 L426.6,682.0 L424.9,681.6 L423.2,681.3 L421.5,680.9 L419.8,680.5 L418.2,680.2 L416.5,679.7 L414.8,679.3 L413.1,678.9 L411.5,678.5 L409.8,678.0 L408.2,677.5 L406.5,677.0 L404.9,676.6 L403.2,676.0 L401.6,675.5 L399.9,675.0 L398.3,674.5 L396.6,673.9 L395.0,673.3 L393.4,672.8 L391.8,672.2 L390.1,671.6 L388.5,671.0 L386.9,670.3 L385.3,669.7 L383.7,669.0 L382.1,668.4 L380.5,667.7 L378.9,667.0 L377.4,666.3 L375.8,665.6 L374.2,664.9 L372.6,664.2 L371.1,663.4 L369.5,662.7 L368.0,661.9 L366.4,661.2 L364.9,660.4 L363.3,659.6 L361.8,658.8 L360.3,658.0 L358.7,657.1 L357.2,656.3 L355.7,655.4 L354.2,654.6 L352.7,653.7 L351.2,652.8 L349.7,652.0 L348.3,651.1 L346.8,650.1 L345.3,649.2 L343.8,648.3 L342.4,647.3 L340.9,646.4 L339.5,645.4 L338.1,644.5 L336.6,643.5 L335.2,642.5 L333.8,641.5 L332.4,640.5 L331.0,639.5 L329.6,638.4 L328.2,637.4 L326.8,636.3 L325.4,635.3 L324.1,634.2 L322.7,633.1 L321.4,632.0 L320.0,630.9 L318.7,629.8 L317.4,628.7 L316.0,627.6 L314.7,626.5 L313.4,625.3 L312.1,624.2 L310.8,623.0 L309.5,621.9 L308.3,620.7 L307.0,619.5 L305.7,618.3 L304.5,617.1 L303.2,615.9 L302.0,614.7 L300.8,613.4 L299.6,612.2 L298.4,611.0 L297.2,609.7 L296.0,608.5 L294.8,607.2 L293.6,605.9 L292.4,604.6 L291.3,603.3 L290.1,602.0 L289.0,600.7 L287.9,599.4 L286.7,598.1 L285.6,596.8 L284.5,595.4 L283.4,594.1 L282.3,592.7 L281.3,591.4 L280.2,590.0 L279.2,588.6 L278.1,587.3 L277.1,585.9 L276.0,584.5 L275.0,583.1 L274.0,581.7 L273.0,580.3 L272.0,578.8 L271.1,577.4 L270.1,576.0 L269.1,574.5 L268.2,573.1 L267.2,571.6 L266.3,570.2 L265.4,568.7 L264.5,567.2 L263.6,565.8 L262.7,564.3 L261.8,562.8 L261.0,561.3 L260.1,559.8 L259.3,558.3 L258.4,556.8 L257.6,555.3 L256.8,553.8 L256.0,552.2 L255.2,550.7 L254.4,549.2 L253.7,547.6 L252.9,546.1 L252.2,544.5 L251.4,543.0 L250.7,541.4 L250.0,539.8 L249.3,538.3 L248.6,536.7 L247.9,535.1 L247.3,533.5 L246.6,531.9 L246.0,530.3 L245.3,528.7 L244.7,527.1 L244.1,525.5 L243.5,523.9 L242.9,522.3 L242.4,520.7 L241.8,519.1 L241.2,517.4 L240.7,515.8 L240.2,514.2 L239.7,512.5 L239.2,510.9 L238.7,509.3 L238.2,507.6 L237.7,506.0 L237.3,504.3 L236.9,502.7 L236.4,501.0 L236.0,499.3 L235.6,497.7 L235.2,496.0 L234.8,494.4 L234.5,492.7 L234.1,491.0 L233.8,489.3 L233.5,487.7 L233.2,486.0 L232.9,484.3 L232.6,482.6 L232.3,480.9 L232.0,479.3 L231.8,477.6 L231.6,475.9 L231.3,474.2 L231.1,472.5 L230.9,470.8 L230.8,469.1 L230.6,467.4 L230.4,465.7 L230.3,464.0 L230.2,462.3 L230.0,460.6 L229.9,458.9 L229.9,457.2 L229.8,455.5 L229.7,453.8 L229.7,452.1 L229.6,450.4 L229.6,448.7 L229.6,447.0 L229.6,445.3 L229.7,443.6 L229.7,442.0 L229.7,440.3 L229.8,438.6 L229.9,436.9 L230.0,435.2 L230.1,433.5 L230.2,431.8 L230.3,430.1 L230.5,428.4 L230.6,426.7 L230.8,425.0 L231.0,423.3 L231.2,421.7 L231.4,420.0 L231.7,418.3 L231.9,416.6 L232.2,414.9 L232.5,413.3 L232.7,411.6 L233.0,409.9 L233.4,408.3 L233.7,406.6 L234.0,405.0 L234.4,403.3 L234.8,401.6 L235.2,400.0 L235.6,398.3 L236.0,396.7 L236.4,395.1 L236.9,393.4 L237.4,391.8 L237.8,390.2 L238.3,388.5 L238.8,386.9 L239.4,385.3 L239.9,383.7 L240.4,382.1 L241.0,380.5 L241.6,378.9 L242.2,377.3 L242.8,375.7 L243.4,374.1 L244.1,372.6 L244.7,371.0 L245.4,369.4 L246.1,367.9 L246.8,366.3 L247.5,364.8 L248.2,363.2 L249.0,361.7 L249.7,360.2 L250.5,358.6 L251.3,357.1 L252.1,355.6 L252.9,354.1 L253.7,352.6 L254.6,351.1 L255.4,349.6 L256.3,348.2 L257.2,346.7 L258.1,345.2 L259.0,343.8 L259.9,342.3 L260.9,340.9 L261.8,339.5 L262.8,338.1 L263.8,336.7 L264.8,335.3 L265.8,333.9 L266.9,332.5 L267.9,331.1 L269.0,329.7 L270.0,328.4 L271.1,327.0 L272.2,325.7 L273.4,324.4 L274.5,323.0 L275.6,321.7 L276.8,320.4 L278.0,319.2 L279.2,317.9 L280.4,316.6 L281.6,315.3 L282.8,314.1 L284.1,312.9 L285.3,311.6 L286.6,310.4 L287.9,309.2 L289.2,308.0 L290.5,306.9 L291.8,305.7 L293.1,304.5 L294.5,303.4 L295.8,302.2 L297.2,301.1 L298.6,300.0 L300.0,298.9 L301.4,297.8 L302.9,296.8 L304.3,295.7 L305.8,294.7 L307.2,293.6 L308.7,292.6 L310.2,291.6 L311.7,290.6 L313.2,289.6 L314.7,288.7 L316.3,287.7 L317.8,286.8 L319.4,285.9 L321.0,285.0 L322.6,284.1 L324.2,283.2 L325.8,282.3 L327.4,281.5 L329.0,280.6 L330.7,279.8 L332.3,279.0 L334.0,278.2 L335.7,277.5 L337.4,276.7 L339.1,276.0 L340.8,275.2 L342.5,274.5 L344.2,273.8 L346.0,273.1 L347.7,272.5 L349.5,271.8 L351.3,271.2 L353.0,270.6 L354.8,270.0 L356.6,269.4 L358.4,268.8 L360.3,268.3 L362.1,267.8 L363.9,267.3 L365.8,266.8 L367.6,266.3 L369.5,265.8 L371.3,265.4 L373.2,265.0 L375.1,264.5 L377.0,264.2 L378.9,263.8 L380.8,263.4 L382.7,263.1 L384.6,262.8 L386.6,262.5 L388.5,262.2 L390.5,261.9 L392.4,261.7 L394.4,261.4 L396.3,261.2 L398.3,261.1 L400.3,260.9 L402.2,260.7 L404.2,260.6 L406.2,260.5 L408.2,260.4 L410.2,260.3 L412.2,260.3 L414.2,260.2 Z" fill="url(#gRed)"/>
<path d="M432.0,415.0 L421.7,174.3 L423.7,174.2 L425.7,174.1 L427.6,174.1 L429.6,174.0 L431.6,174.0 Z" fill="#a25cb2"/>
<path d="M449.3,404.3 L450.6,153.7 L452.7,153.7 L454.9,153.7 L457.0,153.7 L459.1,153.8 L461.3,153.8 L463.4,153.9 L465.6,154.0 L467.7,154.1 L469.9,154.3 L472.0,154.5 L474.2,154.6 L476.4,154.9 L478.5,155.1 L480.7,155.3 L482.8,155.6 L485.0,155.9 L487.2,156.2 L489.3,156.6 L491.5,156.9 L493.6,157.3 L495.8,157.7 L498.0,158.1 L500.1,158.6 L502.3,159.0 L504.4,159.5 L506.6,160.0 L508.7,160.6 L510.9,161.1 L513.0,161.7 L515.2,162.3 L517.3,162.9 L519.4,163.5 L521.6,164.2 L523.7,164.9 L525.8,165.6 L528.0,166.3 L530.1,167.0 L532.2,167.8 L534.3,168.6 L536.4,169.4 L538.5,170.2 L540.6,171.0 L542.7,171.9 L544.8,172.8 L546.8,173.7 L548.9,174.6 L551.0,175.6 L553.0,176.5 L555.1,177.5 L557.1,178.5 L559.2,179.6 L561.2,180.6 L563.2,181.7 L565.2,182.8 L567.2,183.9 L569.2,185.0 L571.2,186.2 L573.2,187.3 L575.1,188.5 L577.1,189.7 Z" fill="url(#gBlue)"/>
<path d="M467.5,413.5 L598.6,200.9 L600.5,202.1 L602.4,203.4 L604.3,204.6 L606.2,205.9 L608.1,207.2 L609.9,208.5 L611.8,209.8 L613.6,211.1 L615.4,212.5 Z" fill="url(#gGreen)"/>
<path d="M450.5,441.5 L592.6,251.5 L594.2,252.7 L595.8,254.0 L597.3,255.2 L598.9,256.5 Z" fill="#f6cb4e"/>
<g clip-path="url(#cp_china)" fill="none"><path d="M568.4,317.1 L570.1,318.5 L571.8,320.0 L573.5,321.4 L575.1,322.9 L576.8,324.4 L578.4,325.9 L580.0,327.4 L581.6,328.9 L583.2,330.5 L584.8,332.0 L586.3,333.6 L587.9,335.2 L589.4,336.8 L590.9,338.4 L592.5,340.0 L593.9,341.7 L595.4,343.3 L596.9,345.0 L598.3,346.6 L599.8,348.3 L601.2,350.0 L602.6,351.7 L604.0,353.5 L605.4,355.2 L606.7,356.9 L608.0,358.7 L609.4,360.5 L610.7,362.2 L612.0,364.0 L613.2,365.8 L614.5,367.6 L615.8,369.4 L617.0,371.3 L618.2,373.1 L619.4,374.9 L620.6,376.8 L621.7,378.7 L622.9,380.5 L624.0,382.4 L625.1,384.3 L626.2,386.2 L627.2,388.1 L628.3,390.0 L629.3,391.9 L630.3,393.8 L631.3,395.8 L632.3,397.7 L633.3,399.7 L634.2,401.6 L635.1,403.6 L636.0,405.5 L636.9,407.5 L637.8,409.5 L638.7,411.4 L639.5,413.4 L640.3,415.4 L641.1,417.4 L641.9,419.4 L642.6,421.4 L643.4,423.4 L644.1,425.4 L644.8,427.4 L645.4,429.5 L646.1,431.5 L646.7,433.5 L647.4,435.5 L648.0,437.6 L648.5,439.6 L649.1,441.6" stroke="#ff5a5e" stroke-opacity="0.45" stroke-width="7"/><path d="M648.5,439.6 L649.1,441.6 L649.7,443.7 L650.2,445.7 L650.7,447.8 L651.2,449.8 L651.7,451.9 L652.1,454.0 L652.5,456.0 L652.9,458.1 L653.3,460.2 L653.7,462.2 L654.0,464.3 L654.4,466.3 L654.7,468.4 L655.0,470.5 L655.2,472.5 L655.5,474.6" stroke="#ff5a5e" stroke-opacity="0.3" stroke-width="6"/><path d="M655.2,472.5 L655.5,474.6 L655.7,476.6 L655.9,478.7 L656.1,480.7 L656.3,482.8 L656.4,484.8 L656.6,486.9 L656.7,488.9 L656.8,491.0 L656.8,493.0 L656.9,495.0 L656.9,497.1 L656.9,499.1 L656.9,501.1 L656.9,503.1 L656.8,505.1 L656.8,507.1" stroke="#ff5a5e" stroke-opacity="0.15" stroke-width="5"/><path d="M250.7,358.1 L251.5,356.6 L252.3,355.1 L253.2,353.6 L254.0,352.1 L254.8,350.7 L255.7,349.2 L256.6,347.7 L257.5,346.3 L258.4,344.8 L259.3,343.4 L260.2,341.9 L261.2,340.5 L262.1,339.1 L263.1,337.7 L264.1,336.3 L265.1,334.9 L266.1,333.5 L267.2,332.1 L268.2,330.7 L269.3,329.4 L270.3,328.0 L271.4,326.7 L272.5,325.3 L273.7,324.0 L274.8,322.7 L275.9,321.4 L277.1,320.1 L278.3,318.8 L279.5,317.6 L280.7,316.3 L281.9,315.1 L283.1,313.8 L284.3,312.6 L285.6,311.4 L286.9,310.2 L288.1,309.0 L289.4,307.8 L290.8,306.6 L292.1,305.4 L293.4,304.3 L294.8,303.1 L296.1,302.0 L297.5,300.9 L298.9,299.8 L300.3,298.7 L301.7,297.6 L303.1,296.6 L304.6,295.5 L306.0,294.5 L307.5,293.5 L309.0,292.4 L310.5,291.4 L312.0,290.5 L313.5,289.5 L315.0,288.5 L316.5,287.6 L318.1,286.7 L319.7,285.7 L321.2,284.8 L322.8,283.9 L324.4,283.1 L326.0,282.2 L327.6,281.4 L329.3,280.5 L330.9,279.7 L332.6,278.9 L334.2,278.1 L335.9,277.4 L337.6,276.6 L339.3,275.9 L341.0,275.1 L342.7,274.4 L344.4,273.7 L346.2,273.1 L347.9,272.4 L349.7,271.8 L351.4,271.1 L353.2,270.5 L355.0,269.9 L356.8,269.4 L358.6,268.8 L360.4,268.3 L362.2,267.7 L364.1,267.2 L365.9,266.7 L367.7,266.2 L369.6,265.8 L371.5,265.3 L373.3,264.9 L375.2,264.5 L377.1,264.1 L379.0,263.8 L380.9,263.4 L382.8,263.1 L384.7,262.8 L386.7,262.5 L388.6,262.2 L390.5,261.9 L392.5,261.7 L394.4,261.4 L396.4,261.2 L398.3,261.0 L400.3,260.9 L402.3,260.7 L404.3,260.6 L406.2,260.5 L408.2,260.4 L410.2,260.3 L412.2,260.3 L414.2,260.2" stroke="#ff5a5e" stroke-opacity="0.3" stroke-width="4"/><path d="M652.3,542.3 L651.9,544.2 L651.5,546.0 L651.0,547.9 L650.5,549.8 L650.0,551.6 L649.5,553.5 L649.0,555.3 L648.5,557.1 L647.9,558.9 L647.3,560.8 L646.7,562.5 L646.1,564.3 L645.5,566.1 L644.8,567.9 L644.2,569.6 L643.5,571.4 L642.8,573.1 L642.1,574.9 L641.3,576.6 L640.6,578.3 L639.8,580.0 L639.1,581.7 L638.3,583.4 L637.5,585.0 L636.6,586.7 L635.8,588.3 L635.0,589.9 L634.1,591.6 L633.2,593.2 L632.3,594.8 L631.4,596.4 L630.5,597.9 L629.5,599.5 L628.6,601.0 L627.6,602.6 L626.6,604.1 L625.6,605.6 L624.6,607.1 L623.6,608.6 L622.5,610.1 L621.5,611.5 L620.4,613.0 L619.3,614.4 L618.3,615.8 L617.1,617.3 L616.0,618.7 L614.9,620.0 L613.8,621.4 L612.6,622.8 L611.4,624.1 L610.3,625.4 L609.1,626.8 L607.9,628.1 L606.7,629.4 L605.4,630.6 L604.2,631.9 L602.9,633.1 L601.7,634.4 L600.4,635.6 L599.1,636.8 L597.9,638.0 L596.5,639.2 L595.2,640.3 L593.9,641.5 L592.6,642.6 L591.2,643.8 L589.9,644.9 L588.5,646.0 L587.2,647.0 L585.8,648.1 L584.4,649.2 L583.0,650.2 L581.6,651.2 L580.2,652.2 L578.7,653.2 L577.3,654.2 L575.9,655.2 L574.4,656.1 L573.0,657.0 L571.5,658.0 L570.0,658.9 L568.5,659.8 L567.1,660.6 L565.6,661.5 L564.1,662.3 L562.5,663.2 L561.0,664.0 L559.5,664.8 L558.0,665.6 L556.4,666.4 L554.9,667.1 L553.3,667.9 L551.8,668.6 L550.2,669.3 L548.6,670.0 L547.1,670.7 L545.5,671.3 L543.9,672.0 L542.3,672.6 L540.7,673.3 L539.1,673.9 L537.5,674.5 L535.9,675.0 L534.3,675.6 L532.6,676.2 L531.0,676.7 L529.4,677.2 L527.8,677.7 L526.1,678.2 L524.5,678.7 L522.8,679.2 L521.2,679.6 L519.5,680.0 L517.9,680.4 L516.2,680.9 L514.5,681.2 L512.9,681.6 L511.2,682.0 L509.5,682.3 L507.8,682.6 L506.1,683.0 L504.5,683.3 L502.8,683.5 L501.1,683.8 L499.4,684.1 L497.7,684.3 L496.0,684.5 L494.3,684.8 L492.6,685.0 L490.9,685.1 L489.2,685.3 L487.5,685.5 L485.8,685.6 L484.1,685.7 L482.4,685.9 L480.7,686.0 L479.0,686.0 L477.3,686.1 L475.6,686.2 L473.8,686.2 L472.1,686.2 L470.4,686.3 L468.7,686.3 L467.0,686.3 L465.3,686.2 L463.6,686.2 L461.8,686.1 L460.1,686.1 L458.4,686.0 L456.7,685.9 L455.0,685.8 L453.3,685.7 L451.6,685.5 L449.9,685.4 L448.2,685.2 L446.5,685.0 L444.8,684.8 L443.0,684.6 L441.3,684.4 L439.6,684.2 L437.9,684.0 L436.2,683.7 L434.5,683.4 L432.8,683.2 L431.2,682.9 L429.5,682.6 L427.8,682.2 L426.1,681.9 L424.4,681.6 L422.7,681.2 L421.0,680.8 L419.4,680.4 L417.7,680.0 L416.0,679.6 L414.3,679.2 L412.7,678.8 L411.0,678.3 L409.3,677.9 L407.7,677.4 L406.0,676.9 L404.4,676.4 L402.7,675.9 L401.1,675.4 L399.5,674.8 L397.8,674.3 L396.2,673.7 L394.6,673.2 L392.9,672.6 L391.3,672.0 L389.7,671.4 L388.1,670.8 L386.5,670.2 L384.9,669.5 L383.3,668.9 L381.7,668.2 L380.1,667.5 L378.5,666.8 L376.9,666.1 L375.3,665.4 L373.7,664.7 L372.2,664.0 L370.6,663.2 L369.1,662.5 L367.5,661.7 L366.0,660.9 L364.4,660.2 L362.9,659.4 L361.4,658.5 L359.8,657.7 L358.3,656.9 L356.8,656.1 L355.3,655.2 L353.8,654.3 L352.3,653.5 L350.8,652.6 L349.3,651.7 L347.8,650.8 L346.4,649.9 L344.9,648.9 L343.4,648.0 L342.0,647.1 L340.5,646.1 L339.1,645.1 L337.6,644.2 L336.2,643.2 L334.8,642.2 L333.4,641.2 L332.0,640.2 L330.6,639.2 L329.2,638.1 L327.8,637.1 L326.4,636.0 L325.0,635.0 L323.7,633.9 L322.3,632.8 L321.0,631.7 L319.6,630.6 L318.3,629.5 L317.0,628.4 L315.6,627.3 L314.3,626.1 L313.0,625.0 L311.7,623.8 L310.4,622.7 L309.2,621.5 L307.9,620.3 L306.6,619.1 L305.4,617.9 L304.1,616.7 L302.9,615.5 L301.6,614.3 L300.4,613.1 L299.2,611.8 L298.0,610.6 L296.8,609.3 L295.6,608.1 L294.4,606.8 L293.3,605.5 L292.1,604.2 L290.9,602.9 L289.8,601.6 L288.7,600.3 L287.5,599.0 L286.4,597.7 L285.3,596.4 L284.2,595.0 L283.1,593.7 L282.0,592.3 L281.0,591.0 L279.9,589.6 L278.8,588.2 L277.8,586.8 L276.8,585.5 L275.7,584.1 L274.7,582.7 L273.7,581.2 L272.7,579.8 L271.7,578.4 L270.8,577.0 L269.8,575.5 L268.8,574.1 L267.9,572.7 L267.0,571.2 L266.0,569.7 L265.1,568.3 L264.2,566.8 L263.3,565.3 L262.4,563.8 L261.6,562.3 L260.7,560.9 L259.9,559.4 L259.0,557.8 L258.2,556.3 L257.4,554.8 L256.6,553.3 L255.8,551.8 L255.0,550.2 L254.2,548.7 L253.4,547.1 L252.7,545.6 L251.9,544.0 L251.2,542.5 L250.5,540.9 L249.8,539.3 L249.1,537.8 L248.4,536.2 L247.7,534.6 L247.1,533.0 L246.4,531.4 L245.8,529.8 L245.1,528.2 L244.5,526.6 L243.9,525.0 L243.3,523.4 L242.7,521.8 L242.2,520.2 L241.6,518.6 L241.1,516.9 L240.5,515.3 L240.0,513.7 L239.5,512.0 L239.0,510.4 L238.5,508.7 L238.1,507.1 L237.6,505.5 L237.2,503.8 L236.7,502.1 L236.3,500.5 L235.9,498.8 L235.5,497.2 L235.1,495.5 L234.7,493.8 L234.4,492.2 L234.0,490.5 L233.7,488.8 L233.4,487.1 L233.1,485.5 L232.8,483.8 L232.5,482.1 L232.2,480.4 L232.0,478.7 L231.7,477.0 L231.5,475.3 L231.3,473.7 L231.1,472.0 L230.9,470.3 L230.7,468.6 L230.5,466.9 L230.4,465.2 L230.2,463.5 L230.1,461.8 L230.0,460.1 L229.9,458.4 L229.8,456.7 L229.8,455.0 L229.7,453.3 L229.7,451.6 L229.6,449.9 L229.6,448.2 L229.6,446.5 L229.6,444.8 L229.7,443.1 L229.7,441.4 L229.8,439.7 L229.8,438.0 L229.9,436.3 L230.0,434.6 L230.1,432.9 L230.2,431.2 L230.4,429.6 L230.5,427.9 L230.7,426.2 L230.9,424.5 L231.1,422.8 L231.3,421.1 L231.5,419.4 L231.7,417.8 L232.0,416.1 L232.3,414.4 L232.5,412.7 L232.8,411.1 L233.1,409.4 L233.5,407.7 L233.8,406.1 L234.2,404.4 L234.5,402.8 L234.9,401.1 L235.3,399.5 L235.7,397.8 L236.1,396.2 L236.6,394.5 L237.0,392.9 L237.5,391.3 L238.0,389.6 L238.5,388.0 L239.0,386.4 L239.5,384.8 L240.1,383.2 L240.6,381.6 L241.2,380.0 L241.8,378.4 L242.4,376.8 L243.0,375.2 L243.6,373.6 L244.3,372.0 L244.9,370.5 L245.6,368.9 L246.3,367.4 L247.0,365.8 L247.7,364.3 L248.5,362.7 L249.2,361.2 L250.0,359.7 L250.7,358.1 L251.5,356.6 L252.3,355.1 L253.2,353.6 L254.0,352.1 L254.8,350.6 L255.7,349.2 L256.6,347.7 L257.5,346.2 L258.4,344.8 L259.3,343.3 L260.2,341.9 L261.2,340.4 L262.2,339.0 L263.1,337.6 L264.1,336.2 L265.2,334.8" stroke="#7a1c20" stroke-opacity="0.4" stroke-width="3"/></g>
<g clip-path="url(#cp_usa)" fill="none"><path d="M450.6,153.7 L452.7,153.7 L454.9,153.7 L457.0,153.7 L459.1,153.8 L461.3,153.8 L463.4,153.9 L465.6,154.0 L467.7,154.1 L469.9,154.3 L472.0,154.5 L474.2,154.6 L476.4,154.9 L478.5,155.1 L480.7,155.3 L482.8,155.6 L485.0,155.9 L487.2,156.2 L489.3,156.6 L491.5,156.9 L493.6,157.3 L495.8,157.7 L498.0,158.1 L500.1,158.6 L502.3,159.0 L504.4,159.5 L506.6,160.0 L508.7,160.6 L510.9,161.1 L513.0,161.7 L515.2,162.3 L517.3,162.9 L519.4,163.5 L521.6,164.2 L523.7,164.9 L525.8,165.6 L528.0,166.3 L530.1,167.0 L532.2,167.8 L534.3,168.6 L536.4,169.4 L538.5,170.2 L540.6,171.0 L542.7,171.9 L544.8,172.8 L546.8,173.7 L548.9,174.6 L551.0,175.6 L553.0,176.5 L555.1,177.5 L557.1,178.5 L559.2,179.6 L561.2,180.6 L563.2,181.7 L565.2,182.8 L567.2,183.9 L569.2,185.0 L571.2,186.2 L573.2,187.3 L575.1,188.5 L577.1,189.7" stroke="#66a6ff" stroke-opacity="0.6" stroke-width="4"/><path d="M577.1,189.7 L449.3,404.3" stroke="#66a6ff" stroke-opacity="0.45" stroke-width="3"/></g>
<g clip-path="url(#cp_uk)" fill="none"><path d="M598.6,200.9 L467.5,413.5" stroke="#b0ff98" stroke-opacity="0.5" stroke-width="3"/></g>
</svg>
<div class="t" style="left:26.4px;top:26.4px;font-size:45px;transform:scaleX(1.0376);transform-origin:0 0">Abortion</div>
<div class="t" style="left:210.1px;top:26.4px;font-size:45px;transform:scaleX(0.96);transform-origin:0 0">Statistics</div>
<div class="t" style="left:495.5px;top:84.8px;font-size:25px;transform:scaleX(0.93);transform-origin:0 0">U.S.A.</div>
<div class="t" style="left:496.7px;top:119px;font-size:25px;transform:scaleX(1.015);transform-origin:0 0">1,210,000</div>
<div class="t" style="left:312.1px;top:162.4px;font-size:21.4px;transform:scaleX(0.962);transform-origin:0 0">Canada</div>
<div class="t" style="left:312.5px;top:190.2px;font-size:21.4px;transform:scaleX(0.978);transform-origin:0 0">96,815</div>
<div class="t" style="left:636.1px;top:169.2px;font-size:21.5px;transform:scaleX(0.93);transform-origin:0 0">U.K.</div>
<div class="t" style="left:637.3px;top:197.4px;font-size:21.5px;transform:scaleX(0.984);transform-origin:0 0">185,000</div>
<div class="t" style="left:619.3px;top:262.6px;font-size:21px;transform:scaleX(1.02);transform-origin:0 0">Australia</div>
<div class="t" style="left:618.5px;top:290.6px;font-size:21px;transform:scaleX(1.025);transform-origin:0 0">84,218</div>
<div class="t" style="left:98.5px;top:253px;font-size:33px;transform:scaleX(1.034);transform-origin:0 0">China</div>
<div class="t" style="left:100px;top:297.6px;font-size:33px;transform:scaleX(1.015);transform-origin:0 0">13,000,000</div>
<div class="dot" style="left:51.2px;top:618.4px;background:#3c6cab"></div>
<div class="t leg" style="left:74.7px;top:617.6px">USA</div>
<div class="dot" style="left:116.9px;top:618.4px;background:#62a85a"></div>
<div class="t leg" style="left:139.7px;top:617.6px">UK</div>
<div class="dot" style="left:173.2px;top:618.4px;background:#e8aa3a"></div>
<div class="t leg" style="left:197.2px;top:617.6px">Australia</div>
<div class="dot" style="left:75.7px;top:663.5px;background:#d0403c"></div>
<div class="t leg" style="left:99px;top:663.3px">China</div>
<div class="dot" style="left:149.2px;top:663.5px;background:#8a54a4"></div>
<div class="t leg" style="left:172.6px;top:663.3px">Canada</div>
</body></html>
